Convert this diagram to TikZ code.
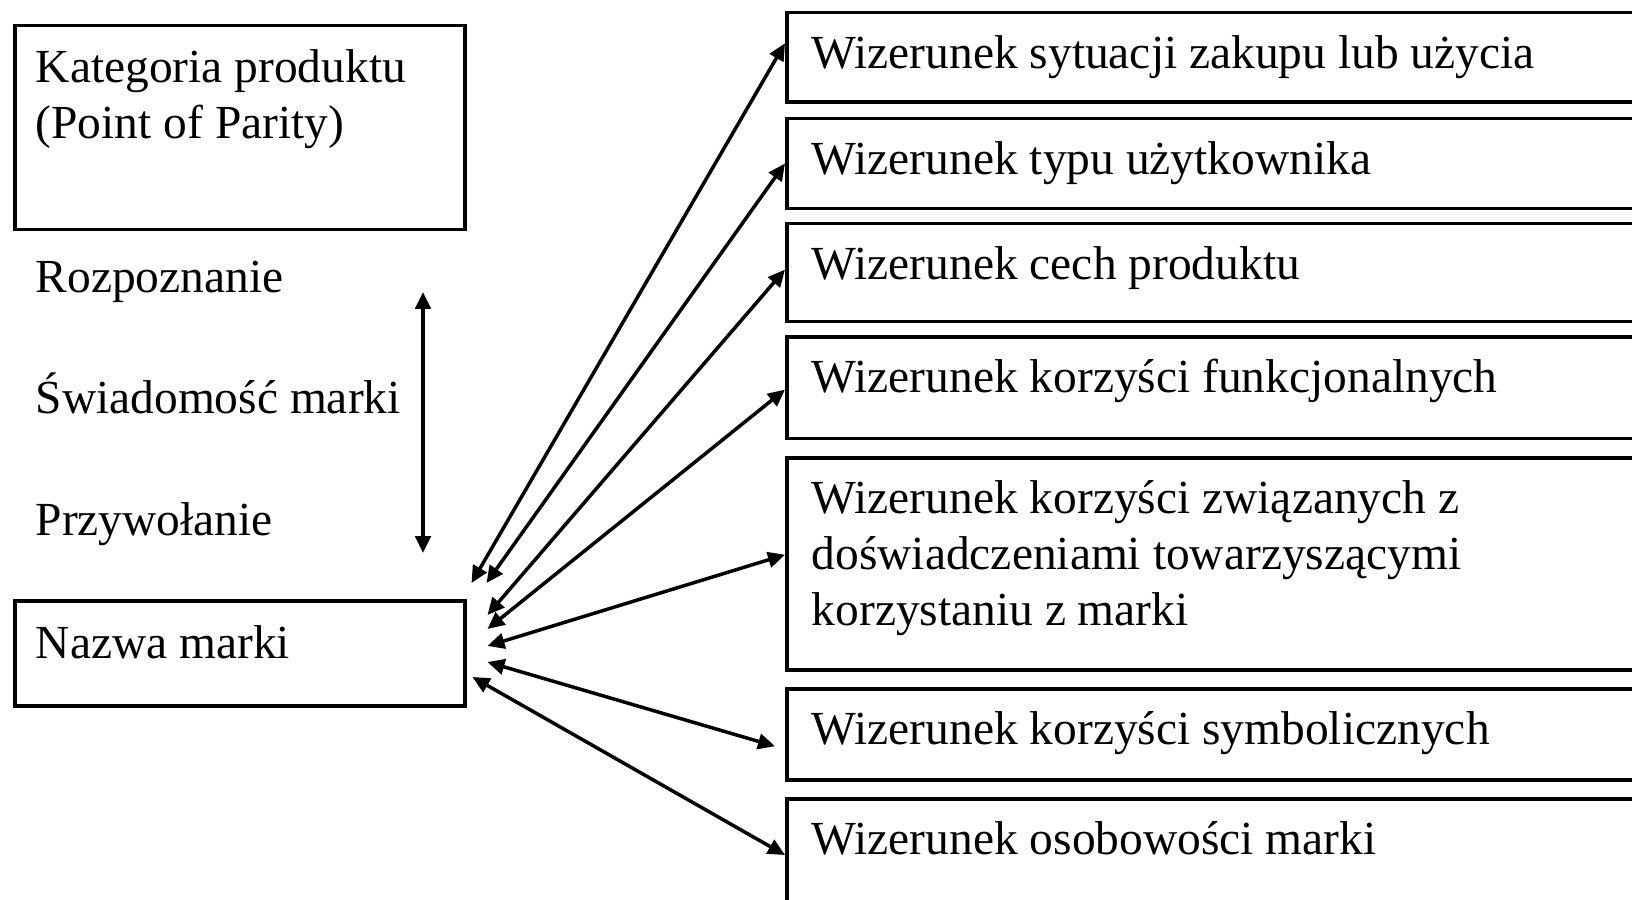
\documentclass[tikz,border=0pt]{standalone}
\usepackage{fontspec}
\setmainfont{Liberation Serif}
\usepackage{tikz}
\usetikzlibrary{arrows.meta,calc}

\begin{document}
\begin{tikzpicture}[
    x=0.1mm, y=-0.1mm,
    >={Triangle[length=1.7mm,width=1.55mm]},
    every node/.style={font=\fontsize{13.5pt}{15.9pt}\selectfont},
    leftbox/.style={draw, line width=0.35mm, anchor=north west, inner xsep=2.1mm, inner ysep=0pt, text width=40.8mm, align=flush left},
    imgbox/.style={draw, line width=0.35mm, anchor=north west, inner xsep=2.5mm, inner ysep=0pt, text width=82.5mm, align=flush left, text height=5.6mm},
    plain/.style={anchor=base west, inner sep=0pt},
    link/.style={<->, line width=0.35mm}
]
  \useasboundingbox (0,0) rectangle (1632,900);
  \clip (0,0) rectangle (1632,900);

  % Left column
  \node[leftbox, text height=5.7mm, text depth=14.7mm] (kat) at (13,24) {Kategoria produktu\\(Point of Parity)};
  \node[plain] (rozp) at (35,293) {Rozpoznanie};
  \node[plain] (swiad) at (35,413) {Świadomość marki};
  \node[plain] (przyw) at (35,535) {Przywołanie};
  \node[leftbox, text height=5.77mm, text depth=4.73mm] (nazwa) at (13,599) {Nazwa marki};

  % Image boxes
  \node[imgbox, text depth=3.37mm] (img1) at (785,10.7) {Wizerunek sytuacji zakupu lub użycia};
  \node[imgbox, text depth=3.4mm] (img2) at (785,116.7) {Wizerunek typu użytkownika};
  \node[imgbox, text depth=4.23mm] (img3) at (785,221.7) {Wizerunek cech produktu};
  \node[imgbox, text depth=4.57mm] (img4) at (785,335) {Wizerunek korzyści funkcjonalnych};
  \node[imgbox, text depth=15.6mm] (img5) at (785,456) {Wizerunek korzyści związanych z\\doświadczeniami towarzyszącymi\\korzystaniu z marki};
  \node[imgbox, text depth=3.5mm] (img6) at (785,687) {Wizerunek korzyści symbolicznych};
  \node[imgbox, text depth=5.2mm] (img7) at (785,797) {Wizerunek osobowości marki};

  % Free ends
  \coordinate (rtop) at (423,292);
  \coordinate (rbot) at (423,553);
  \coordinate (n1) at ($(nazwa.north east)+(5,-16)$);
  \coordinate (n2) at ($(nazwa.north east)+(20,-16)$);
  \coordinate (n3) at ($(nazwa.north east)+(21,16)$);
  \coordinate (n4) at ($(nazwa.north east)+(21,30)$);
  \coordinate (n5) at ($(nazwa.north east)+(21,47)$);
  \coordinate (n6) at ($(nazwa.north east)+(21,63)$);
  \coordinate (n7) at ($(nazwa.north east)+(6,78)$);

  % Connections
  \draw[link] (rtop) -- (rbot);
  \draw[link] (n1) -- ($(img1.west)+(0,-14)$);
  \draw[link] (n2) -- (img2.west);
  \draw[link] (n3) -- ($(img3.west)+(0,-3)$);
  \draw[link] (n4) -- ($(img4.west)+(0,2)$);
  \draw[link] (n5) -- ($(img5.west)+(0,-9)$);
  \draw[link] (n6) -- ($(img6.west)+(-10,12)$);
  \draw[link] (n7) -- ($(img7.north west)+(0,58)$);
\end{tikzpicture}
\end{document}
